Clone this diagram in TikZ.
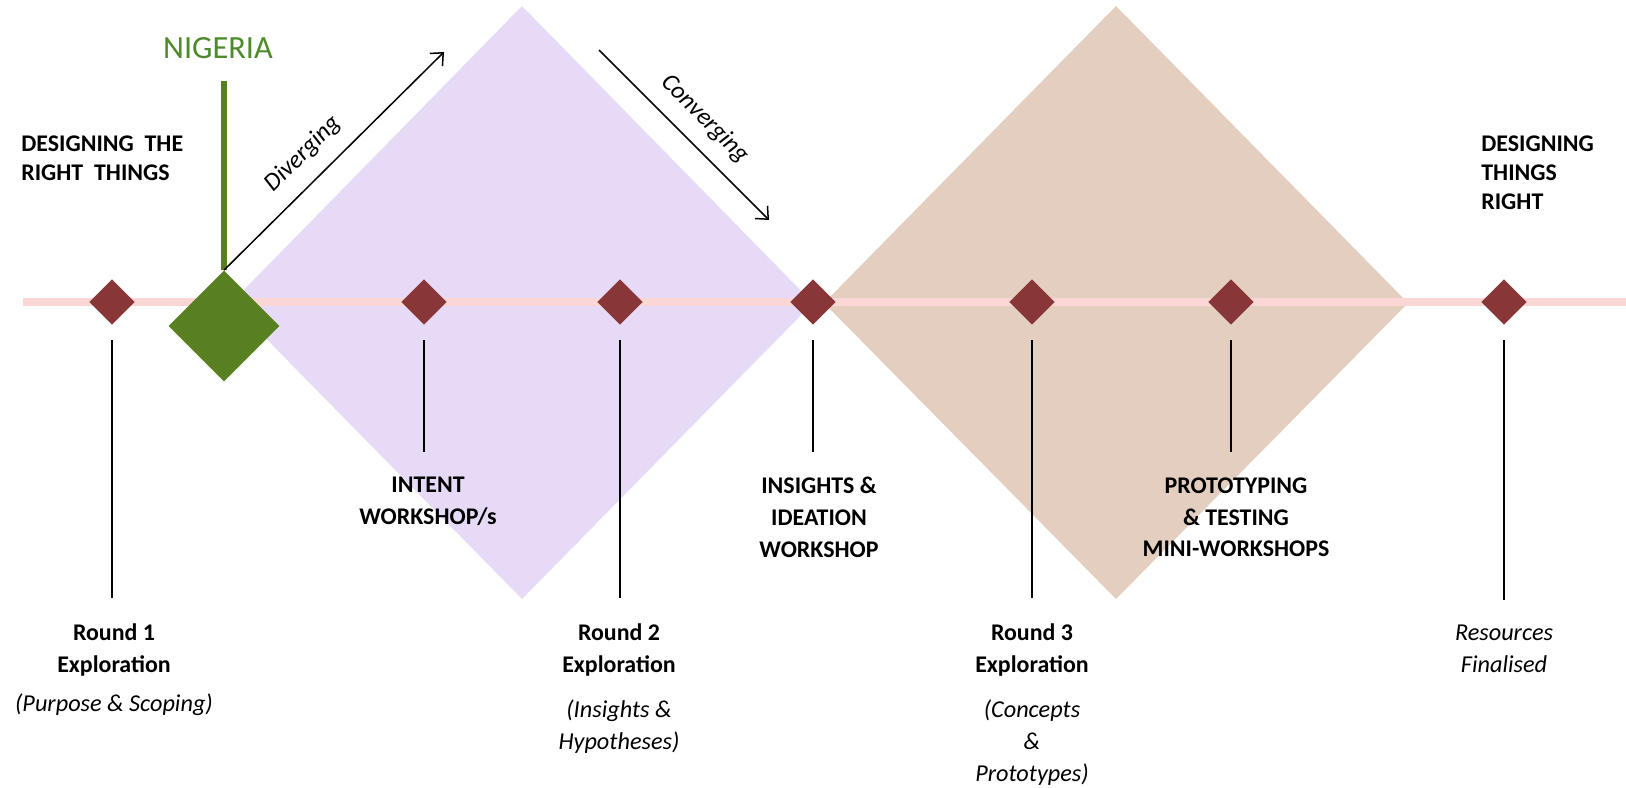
\documentclass[tikz,border=0pt]{standalone}
\usepackage{fontspec}
\setmainfont{Carlito}
\usetikzlibrary{arrows.meta}
\usetikzlibrary{positioning}
\usetikzlibrary{shapes.geometric}

\definecolor{lilac}{RGB}{230,218,247}
\definecolor{sand}{RGB}{227,206,192}
\definecolor{blush}{RGB}{250,214,212}
\definecolor{wine}{RGB}{137,54,57}
\definecolor{leaf}{RGB}{88,128,33}
\definecolor{leaftext}{RGB}{78,138,42}

\tikzset{
  milestone/.style={diamond, fill=wine, inner sep=0pt, minimum width=9.1mm, minimum height=9.1mm},
  flag/.style={diamond, fill=leaf, inner sep=0pt, minimum width=22.2mm, minimum height=22.2mm},
  track/.style={blush, line width=1.6mm},
  pole/.style={leaf, line width=1.1mm},
  stem/.style={black, line width=0.35mm, shorten <=3mm, shorten >=5mm},
  flow/.style={black, line width=0.3mm, -{Straight Barb[length=2mm,width=3.6mm]}},
  phase/.style={font=\bfseries\fontsize{13.6}{18.2}\selectfont, align=center, inner sep=0pt},
  aside/.style={font=\itshape\fontsize{13.8}{18.2}\selectfont, align=center, inner sep=0pt},
  side/.style={font=\bfseries\fontsize{13.6}{16.5}\selectfont, align=left, inner sep=0pt, anchor=north west},
  country/.style={font=\fontsize{18.4}{22}\selectfont, text=leaftext, inner sep=0pt},
  mode/.style={font=\itshape\fontsize{14.2}{16}\selectfont, inner sep=0pt}
}

\begin{document}
\begin{tikzpicture}[x=0.2mm, y=-0.2mm]
  \useasboundingbox (0,0) rectangle (1626,788);

  % the two diamonds
  \fill[lilac] (522,6) -- (813,303) -- (522,599) -- (231,303) -- cycle;
  \fill[sand] (1116,6) -- (1408,303) -- (1116,599) -- (824,303) -- cycle;

  % timeline
  \draw[track] (23,302) -- (1626,302);

  % country marker
  \node[flag] (ng) at (224,326) {};
  \node[country] (nigeria) at (218,48) {NIGERIA};
  \coordinate (poletop) at (224,81);
  \draw[pole] (ng.north) -- (poletop);

  % milestones
  \node[milestone] (m1) at (112,302) {};
  \node[milestone] (m2) at (424,302) {};
  \node[milestone] (m3) at (620,302) {};
  \node[milestone] (m4) at (813,302) {};
  \node[milestone] (m5) at (1032,302) {};
  \node[milestone] (m6) at (1231,302) {};
  \node[milestone] (m7) at (1504,302) {};

  % diverging / converging
  \coordinate (divtip) at (444,52);
  \coordinate (convtail) at (599,50);
  \coordinate (convtip) at (769,220);
  \draw[flow] (ng.north) -- (divtip);
  \draw[flow] (convtail) -- (convtip);
  \node[mode, rotate=45] (div) at (303,154) {Diverging};
  \node[mode, rotate=-45] (conv) at (705,119) {Converging};

  % side headings
  \node[side] (left) at (21,135) {DESIGNING\ \ THE\\RIGHT\ \ THINGS};
  \node[side] (right) at (1481,135) {DESIGNING\\THINGS\\RIGHT};

  % workshops
  \node[phase, anchor=north] (w1) at (428,477) {INTENT\\WORKSHOP/s};
  \node[phase, anchor=north] (w2) at (819,477) {INSIGHTS \&\\IDEATION\\WORKSHOP};
  \node[phase, anchor=north] (w3) at (1236,477) {PROTOTYPING\\\& TESTING\\MINI-WORKSHOPS};

  % rounds
  \node[phase, anchor=north] (r1) at (114,623) {Round 1\\Exploration};
  \node[aside, below=3.5mm of r1] (r1n) {(Purpose \& Scoping)};
  \node[phase, anchor=north] (r2) at (619,623) {Round 2\\Exploration};
  \node[aside, below=4.7mm of r2] (r2n) {(Insights \&\\Hypotheses)};
  \node[phase, anchor=north] (r3) at (1032,623) {Round 3\\Exploration};
  \node[aside, below=4.7mm of r3] (r3n) {(Concepts\\\&\\Prototypes)};
  \node[aside, anchor=north] (fin) at (1504,625) {Resources\\Finalised};

  \draw[stem] (m1) -- (m1 |- r1.north);
  \draw[stem] (m2) -- (m2 |- w1.north);
  \draw[stem] (m3) -- (m3 |- r2.north);
  \draw[stem] (m4) -- (m4 |- w2.north);
  \draw[stem] (m5) -- (m5 |- r3.north);
  \draw[stem] (m6) -- (m6 |- w3.north);
  \draw[stem] (m7) -- (m7 |- fin.north);
\end{tikzpicture}
\end{document}
